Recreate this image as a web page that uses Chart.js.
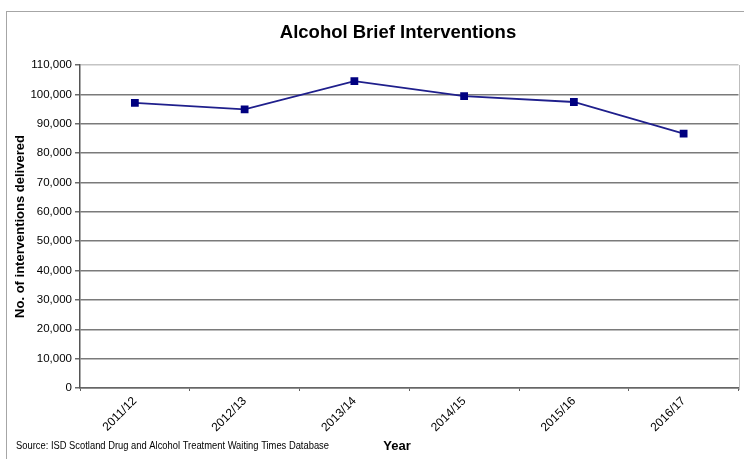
<!DOCTYPE html>
<html>
<head>
<meta charset="utf-8">
<script src="https://cdn.jsdelivr.net/npm/chart.js@4"></script>
<style>
  html, body { margin: 0; padding: 0; background: #fff; }
  #wrap { width: 744px; height: 459px; position: relative; }
</style>
</head>
<body>
<div id="wrap"><canvas id="c" width="744" height="459"></canvas></div>
<script>
// Financial years and number of alcohol brief interventions delivered
const years = ['2011/12', '2012/13', '2013/14', '2014/15', '2015/16', '2016/17'];
const interventions = [97100, 94900, 104500, 99400, 97400, 86600];

const chartTitle = 'Alcohol Brief Interventions';
const sourceNote = 'Source: ISD Scotland Drug and Alcohol Treatment Waiting Times Database';
const xTitle = 'Year';
const yTitle = 'No. of interventions delivered';

const FONT = '"Liberation Sans", Arial, sans-serif';

// Frame, heading, right plot edge and footnote
const decorations = {
  id: 'decorations',
  beforeDraw(chart) {
    const ctx = chart.ctx;
    ctx.save();
    ctx.strokeStyle = '#a6a6a6';
    ctx.lineWidth = 1;
    ctx.strokeRect(6.5, 11.5, 760, 460);
    ctx.restore();
  },
  afterDraw(chart) {
    const ctx = chart.ctx;
    const a = chart.chartArea;
    ctx.save();
    // right edge of the plot area
    ctx.strokeStyle = '#bdbdbd';
    ctx.lineWidth = 1;
    ctx.beginPath();
    ctx.moveTo(Math.round(a.right) + 0.5, a.top);
    ctx.lineTo(Math.round(a.right) + 0.5, a.bottom + 2);
    ctx.stroke();

    ctx.fillStyle = '#000';
    ctx.textBaseline = 'middle';
    ctx.textAlign = 'center';
    ctx.font = 'bold 18.5px ' + FONT;
    ctx.fillText(chartTitle, 398, 33);

    ctx.font = 'bold 13px ' + FONT;
    ctx.fillText(xTitle, 397, 446);

    // footnote, condensed to its printed width
    ctx.font = '10px ' + FONT;
    const w = ctx.measureText(sourceNote).width;
    ctx.textAlign = 'left';
    ctx.translate(16, 446);
    ctx.scale(313 / w, 1);
    ctx.fillText(sourceNote, 0, 0);
    ctx.restore();
  }
};

new Chart(document.getElementById('c'), {
  type: 'line',
  data: {
    labels: years,
    datasets: [{
      data: interventions,
      borderColor: '#1f1f8c',
      backgroundColor: '#000080',
      pointBackgroundColor: '#000080',
      pointBorderColor: '#000080',
      borderWidth: 1.8,
      pointStyle: 'rect',
      pointRadius: 5.5,
      pointBorderWidth: 0,
      tension: 0,
      fill: false
    }]
  },
  options: {
    responsive: false,
    animation: false,
    devicePixelRatio: 1,
    layout: { padding: { top: 65, left: 0, right: 1, bottom: 0 } },
    plugins: {
      legend: { display: false },
      title: { display: false },
      tooltip: { enabled: false }
    },
    scales: {
      x: {
        offset: true,
        grid: {
          offset: true,
          drawOnChartArea: false,
          drawTicks: true,
          tickLength: 3,
          color: '#606060'
        },
        border: { color: '#666666', width: 1.5 },
        ticks: {
          minRotation: 45,
          maxRotation: 45,
          padding: 3,
          color: '#000',
          font: { family: FONT, size: 12 }
        },
        afterFit(scale) {
          scale.height = 459 - 388;
          scale.paddingLeft = 0;
          scale.paddingRight = 0;
        }
      },
      y: {
        min: 0,
        max: 110000,
        ticks: {
          stepSize: 10000,
          padding: 3,
          color: '#000',
          font: { family: FONT, size: 11.5 },
          callback: v => v.toLocaleString('en-GB')
        },
        grid: {
          color: ctx => (ctx.tick && ctx.tick.value === 110000) ? '#c4c4c4' : '#7a7a7a',
          tickColor: '#6a6a6a',
          tickLength: 5,
          lineWidth: 1.5
        },
        border: { color: '#555555', width: 1.5 },
        title: {
          display: true,
          text: yTitle,
          color: '#000',
          font: { family: FONT, size: 13, weight: 'bold' },
          padding: { top: 13, bottom: 0 }
        },
        afterFit(scale) {
          scale.width = 80;
          scale.paddingTop = 0;
          scale.paddingBottom = 0;
        }
      }
    }
  },
  plugins: [decorations]
});
</script>
</body>
</html>
